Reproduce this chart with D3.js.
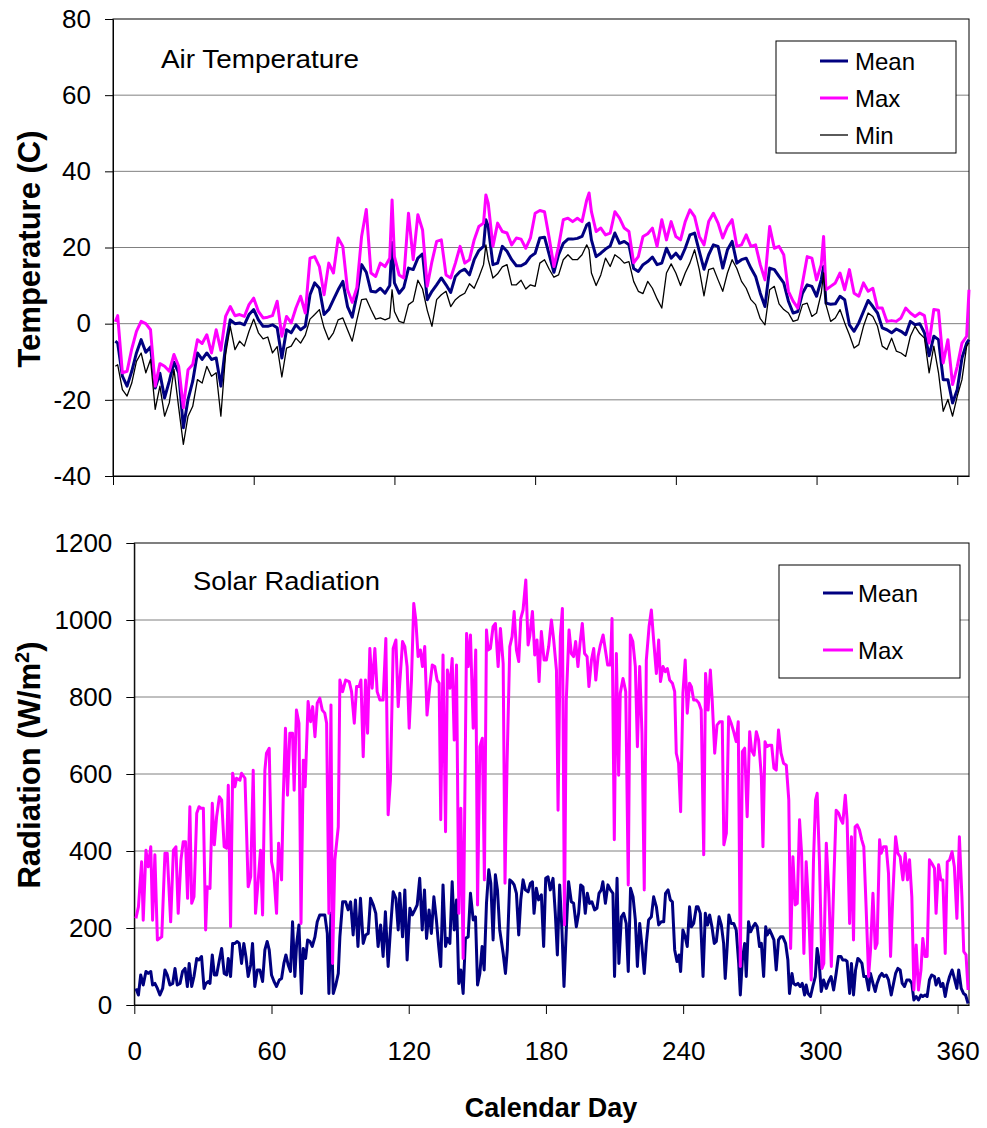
<!DOCTYPE html>
<html>
<head>
<meta charset="utf-8">
<script src="https://cdn.jsdelivr.net/npm/d3@7"></script>
<style>
body { margin:0; background:#fff; }
svg { font-family:"Liberation Sans", Arial, sans-serif; }
</style>
</head>
<body>
<svg id="chart" width="987" height="1128"></svg>
<script>
// ---- data: [calendar day, value] ----
var tempMean = [[1,-4.6],[2,-5.1],[4,-13.8],[6,-16.4],[8,-12.5],[10,-7.7],[12,-4.2],[14,-7.5],[16,-6.1],[18,-16.9],
[20,-13.0],[22,-19.5],[24,-15.1],[26,-10.1],[28,-12.9],[30,-27.3],[32,-19.9],[34,-15.1],[36,-7.7],[38,-9.4],
[40,-7.7],[42,-9.4],[44,-9.0],[46,-16.4],[48,-5.9],[50,1.0],[52,0.0],[54,0.2],[56,-0.3],[58,2.4],
[60,3.7],[62,1.0],[64,-0.7],[66,-0.7],[68,-0.3],[70,-1.1],[72,-9.0],[74,-1.6],[76,-2.4],[78,-0.3],
[80,-1.6],[82,-0.7],[84,7.6],[86,10.7],[88,9.3],[90,2.4],[92,3.7],[94,6.3],[96,8.9],[98,11.1],
[100,4.5],[102,1.7],[104,7.6],[106,15.5],[108,13.5],[110,8.5],[112,8.3],[114,9.3],[116,8.0],[118,10.0],
[119,21.3],[120,10.7],[122,8.0],[124,9.5],[126,14.6],[128,14.2],[130,17.2],[132,18.3],[134,6.3],[136,8.5],
[138,10.2],[140,12.0],[142,10.2],[144,8.2],[146,12.4],[148,13.7],[150,14.3],[152,12.8],[154,16.8],[156,19.2],
[158,20.3],[159,27.3],[160,25.5],[162,15.5],[164,15.9],[166,20.3],[168,19.0],[170,16.8],[172,15.2],[174,15.2],
[176,15.9],[178,17.6],[180,18.5],[182,22.5],[184,22.7],[186,18.1],[188,13.5],[190,18.1],[192,21.1],[194,22.2],
[196,22.2],[198,22.4],[200,22.9],[202,25.9],[203,26.4],[204,22.0],[206,17.6],[208,18.5],[210,19.6],[212,20.4],
[214,23.8],[216,21.1],[218,21.6],[220,20.7],[222,14.5],[224,13.7],[226,15.5],[228,16.3],[230,17.5],[232,15.5],
[234,15.9],[236,19.8],[238,17.2],[240,18.5],[242,17.0],[244,19.8],[246,23.3],[248,23.8],[250,19.0],[252,14.3],
[254,18.1],[256,20.7],[258,20.3],[260,14.6],[262,19.4],[264,21.6],[266,15.9],[268,16.8],[270,17.2],[272,14.6],
[274,12.4],[276,8.0],[278,4.5],[280,14.6],[282,14.2],[284,12.4],[286,10.7],[288,5.9],[290,2.8],[292,3.2],
[294,8.0],[296,10.2],[298,9.8],[300,7.2],[302,11.5],[303,15.0],[304,5.4],[306,5.1],[308,5.2],[310,7.2],
[312,6.3],[314,-0.3],[316,-2.0],[318,0.2],[320,3.2],[322,6.1],[324,4.5],[326,2.8],[328,-1.1],[330,-1.6],
[332,-2.4],[334,-1.4],[336,-2.0],[338,-2.9],[340,0.6],[342,-0.3],[344,0.0],[346,-2.4],[348,-8.4],[350,-3.3],
[352,-4.2],[354,-14.7],[356,-14.7],[358,-20.8],[360,-17.3],[362,-9.0],[364,-5.1],[365,-4.2]];

var tempMax = [[1,0.5],[2,2.1],[4,-12.9],[6,-12.5],[8,-6.6],[10,-2.0],[12,0.6],[14,0.0],[16,-1.6],[18,-16.4],
[20,-10.5],[22,-11.2],[24,-12.5],[26,-8.1],[28,-11.2],[30,-22.1],[32,-12.1],[34,-10.7],[36,-4.2],[38,-5.2],
[40,-2.9],[42,-7.7],[44,-1.6],[46,-7.0],[48,1.9],[50,4.5],[52,2.1],[54,2.4],[56,1.9],[58,5.0],
[60,6.7],[62,3.2],[64,1.5],[66,1.7],[68,2.1],[70,5.9],[72,-3.3],[74,1.9],[76,0.2],[78,4.1],
[80,7.2],[82,2.8],[84,17.2],[86,17.6],[88,15.0],[90,7.6],[92,15.9],[94,13.3],[96,22.5],[98,20.3],
[100,8.9],[102,5.6],[104,9.5],[106,22.9],[108,30.0],[110,13.3],[112,12.4],[114,15.9],[116,15.0],[118,17.2],
[119,32.5],[120,17.6],[122,12.8],[124,12.0],[126,29.0],[128,16.8],[130,28.6],[132,24.6],[134,9.8],[136,16.3],
[138,21.6],[140,22.0],[142,12.8],[144,12.0],[146,15.9],[148,20.3],[150,15.9],[152,16.8],[154,22.0],[156,25.5],
[158,26.4],[159,33.8],[160,31.6],[162,20.3],[164,26.4],[166,24.2],[168,23.8],[170,20.7],[172,22.5],[174,22.2],
[176,19.8],[178,22.5],[180,29.0],[182,29.7],[184,29.4],[186,22.5],[188,15.0],[190,20.3],[192,27.3],[194,27.7],
[196,26.8],[198,27.7],[200,26.8],[202,32.5],[203,34.3],[204,29.4],[206,24.2],[208,25.1],[210,23.3],[212,23.8],
[214,29.4],[216,27.7],[218,25.1],[220,24.2],[222,16.0],[224,17.6],[226,22.9],[228,23.6],[230,25.1],[232,20.3],
[234,27.3],[236,22.0],[238,26.8],[240,22.9],[242,22.0],[244,26.8],[246,29.9],[248,28.1],[250,22.9],[252,20.7],
[254,26.8],[256,29.0],[258,26.4],[260,22.5],[262,25.5],[264,27.3],[266,20.3],[268,20.7],[270,23.3],[272,20.3],
[274,20.7],[276,15.5],[278,11.5],[280,25.5],[282,19.8],[284,20.3],[286,18.1],[288,8.5],[290,5.9],[292,4.1],
[294,10.7],[296,17.6],[298,17.2],[300,11.5],[302,15.5],[303,22.9],[304,8.9],[306,9.8],[308,10.7],[310,13.3],
[312,8.9],[314,14.2],[316,8.0],[318,7.2],[320,10.7],[322,8.5],[324,9.3],[326,4.1],[328,4.1],[330,0.6],
[332,0.8],[334,0.6],[336,1.5],[338,4.1],[340,2.8],[342,1.9],[344,2.8],[346,2.1],[348,-5.1],[350,3.7],
[352,3.5],[354,-10.3],[356,-4.2],[358,-16.0],[360,-11.2],[362,-5.1],[364,-3.3],[365,8.9]];

var tempMin = [[1,-11.2],[2,-10.8],[4,-17.3],[6,-19.0],[8,-15.6],[10,-9.9],[12,-7.7],[14,-12.9],[16,-9.4],[18,-22.5],
[20,-16.4],[22,-24.3],[24,-20.8],[26,-12.0],[28,-22.0],[30,-31.7],[32,-24.3],[34,-21.7],[36,-14.7],[38,-15.6],
[40,-11.2],[42,-13.8],[44,-12.9],[46,-24.3],[48,-8.1],[50,-0.7],[52,-6.8],[54,-4.6],[56,-5.9],[58,-2.0],
[60,1.2],[62,-2.4],[64,-4.0],[66,-3.5],[68,-7.7],[70,-6.0],[72,-14.0],[74,-6.4],[76,-5.9],[78,-3.8],
[80,-5.1],[82,-3.0],[84,1.2],[86,2.4],[88,3.7],[90,-1.1],[92,-4.2],[94,-2.4],[96,1.0],[98,1.5],
[100,-1.6],[102,-4.6],[104,1.0],[106,6.3],[108,6.5],[110,3.7],[112,1.2],[114,1.5],[116,1.0],[118,1.5],
[119,8.9],[120,3.2],[122,0.6],[124,0.2],[126,5.0],[128,5.9],[130,11.4],[132,9.1],[134,3.5],[136,-0.7],
[138,6.3],[140,7.6],[142,8.5],[144,4.5],[146,6.3],[148,7.3],[150,8.0],[152,10.5],[154,9.3],[156,12.2],
[158,15.5],[159,20.7],[160,16.8],[162,12.0],[164,13.1],[166,14.9],[168,15.5],[170,10.2],[172,10.2],[174,11.4],
[176,9.1],[178,10.2],[180,9.8],[182,15.9],[184,16.8],[186,14.3],[188,12.2],[190,12.8],[192,16.8],[194,18.1],
[196,16.8],[198,16.8],[200,18.1],[202,20.7],[203,19.4],[204,13.3],[206,10.0],[208,12.8],[210,17.2],[212,15.0],
[214,18.1],[216,17.2],[218,15.9],[220,16.3],[222,11.1],[224,8.5],[226,7.9],[228,11.1],[230,9.3],[232,6.5],
[234,4.1],[236,13.3],[238,15.7],[240,13.3],[242,10.0],[244,13.3],[246,15.9],[248,19.4],[250,14.2],[252,7.3],
[254,14.2],[256,14.6],[258,11.5],[260,8.5],[262,13.3],[264,16.8],[266,14.5],[268,11.1],[270,9.3],[272,6.3],
[274,5.0],[276,1.3],[278,-0.3],[280,8.9],[282,9.8],[284,5.2],[286,3.7],[288,2.8],[290,0.6],[292,1.0],
[294,5.0],[296,5.4],[298,1.9],[300,2.8],[302,8.0],[303,13.3],[304,5.0],[306,0.6],[308,1.5],[310,3.7],
[312,0.2],[314,-2.9],[316,-6.4],[318,-5.5],[320,-0.7],[322,2.8],[324,1.9],[326,-0.7],[328,-5.9],[330,-6.8],
[332,-3.8],[334,-7.2],[336,-7.7],[338,-8.6],[340,-3.3],[342,-0.7],[344,-2.6],[346,-3.8],[348,-12.9],[350,-5.9],
[352,-12.9],[354,-23.0],[356,-19.9],[358,-24.3],[360,-19.0],[362,-14.7],[364,-5.9],[365,-5.0]];

var radMean = [[0.7,43],[1.8,26],[2.8,78],[3.9,52],[5.1,87],[6.1,82],[7.2,87],[8.0,52],[9.0,56],[10.1,43],
[11.2,26],[12.4,43],[13.4,91],[14.4,78],[15.6,52],[16.8,56],[17.8,95],[18.8,52],[20.0,56],[21.1,87],
[22.2,95],[23.2,48],[24.0,108],[25.1,48],[26.1,74],[27.3,121],[28.3,117],[29.4,126],[30.5,43],[31.3,56],
[32.4,61],[33.1,56],[34.1,130],[35.0,78],[36.0,78],[37.2,117],[38.2,147],[39.3,82],[40.4,78],[41.1,121],
[42.1,74],[43.0,160],[44.0,160],[45.0,165],[45.9,160],[46.9,108],[47.9,160],[48.8,126],[49.8,74],[50.9,104],
[51.7,160],[52.7,48],[53.8,91],[54.9,91],[56.1,61],[57.1,143],[58.1,165],[59.0,143],[60.0,78],[61.1,61],
[62.2,48],[63.4,65],[64.4,69],[65.4,108],[66.3,130],[67.3,104],[68.3,87],[69.2,216],[70.2,74],[71.0,160],
[72.0,208],[73.1,30],[73.9,147],[74.9,121],[75.8,169],[76.8,165],[77.8,152],[79.0,177],[80.0,216],[81.1,234],
[82.3,234],[83.3,234],[84.4,186],[85.1,30],[86.0,238],[87.0,30],[88.1,52],[89.2,82],[89.9,177],[91.1,268],
[92.4,268],[93.5,247],[94.6,268],[95.7,182],[96.7,273],[97.8,152],[98.9,277],[100.1,160],[101.2,182],[102.3,186],
[103.3,277],[104.5,260],[105.6,238],[106.6,152],[107.7,208],[108.8,126],[109.8,242],[111.0,100],[112.0,195],[113.2,294],
[114.4,277],[115.4,195],[116.1,290],[117.3,177],[118.3,299],[119.3,117],[120.5,251],[121.6,234],[122.7,247],[123.7,260],
[124.8,329],[125.9,195],[126.9,299],[127.8,173],[128.9,247],[129.9,186],[131.0,281],[132.1,221],[133.1,152],[134.0,100],
[135.0,312],[136.1,152],[136.9,173],[138.0,160],[139.0,320],[139.9,195],[140.9,273],[141.9,56],[142.8,91],[143.8,30],
[144.8,173],[146.0,177],[147.0,290],[148.2,221],[149.2,229],[150.1,52],[151.1,82],[152.1,152],[153.0,91],[154.0,264],
[155.0,351],[155.9,316],[156.9,169],[157.9,338],[158.8,299],[159.8,195],[161.3,134],[162.3,82],[163.1,143],[164.2,325],
[165.2,320],[166.1,312],[167.1,290],[168.1,182],[169.0,273],[170.0,325],[171.0,299],[172.2,294],[173.2,316],[174.1,320],
[174.8,238],[175.8,303],[176.8,273],[178.0,286],[179.0,152],[179.9,329],[180.9,333],[181.9,299],[183.1,329],[184.1,238],
[185.0,130],[186.0,312],[187.0,195],[187.9,48],[188.9,195],[189.9,320],[191.1,268],[192.1,264],[193.3,203],[194.3,238],
[195.2,312],[196.2,307],[197.2,238],[198.1,290],[199.1,264],[200.1,268],[201.3,247],[202.3,251],[203.2,290],[204.2,299],
[204.9,320],[206.0,264],[207.1,312],[208.2,299],[209.3,290],[210.0,74],[211.1,329],[211.9,108],[213.0,229],[214.0,238],
[215.1,212],[216.0,87],[217.0,303],[218.1,281],[219.1,221],[220.0,100],[221.0,212],[222.0,152],[223.0,82],[223.9,160],
[224.9,221],[226.1,229],[227.1,281],[228.3,255],[229.3,208],[230.4,216],[231.5,216],[232.3,290],[233.4,299],[234.4,273],
[235.3,268],[236.3,143],[237.3,113],[238.2,130],[238.9,87],[239.9,195],[240.9,177],[241.8,152],[242.8,255],[243.6,203],
[244.6,212],[245.8,255],[246.5,255],[247.5,238],[248.7,74],[249.7,238],[250.7,208],[251.6,234],[252.6,203],[253.6,160],
[254.5,165],[255.7,229],[256.7,208],[257.7,160],[258.4,69],[259.3,156],[260.0,234],[261.0,212],[262.1,212],[263.2,195],
[264.3,108],[265.0,26],[265.9,117],[266.9,160],[267.6,74],[268.6,216],[269.5,190],[270.5,203],[271.5,212],[272.4,203],
[273.4,152],[274.2,160],[275.2,74],[276.1,203],[276.8,182],[277.8,195],[278.8,182],[279.7,169],[280.7,91],[281.7,169],
[282.6,177],[283.6,177],[284.8,160],[285.8,117],[286.5,30],[287.6,82],[288.3,56],[289.2,52],[290.2,56],[291.2,48],
[292.1,56],[293.1,26],[293.8,52],[294.6,30],[295.7,22],[296.7,48],[297.8,74],[298.6,147],[299.4,117],[300.4,35],
[301.4,65],[302.6,43],[303.6,61],[304.7,74],[305.8,39],[306.9,82],[307.9,126],[309.0,126],[309.8,117],[310.9,117],
[311.7,113],[312.8,30],[313.6,108],[314.5,26],[315.4,91],[316.4,121],[317.1,117],[318.2,108],[319.0,74],[320.0,74],
[321.1,39],[321.9,82],[323.0,56],[324.0,35],[324.8,56],[325.9,74],[326.9,82],[327.8,74],[328.8,78],[329.8,65],
[331.0,26],[332.0,56],[332.9,82],[333.9,95],[334.9,91],[335.8,56],[336.8,48],[337.8,65],[339.0,65],[340.0,56],
[340.9,13],[341.9,22],[342.9,13],[344.0,26],[344.8,22],[345.8,26],[346.7,22],[347.7,65],[348.7,78],[349.9,74],
[350.6,52],[351.7,69],[352.7,48],[353.6,56],[354.6,22],[355.5,52],[356.5,74],[357.6,91],[358.6,69],[359.7,43],
[360.5,91],[361.6,43],[362.6,30],[363.5,26],[364.6,4]];

var radMax = [[0.7,225],[1.8,255],[3.2,372],[3.9,220],[5.1,402],[6.1,359],[7.2,411],[8.0,220],[9.0,390],[10.1,169],
[12.0,177],[13.4,394],[14.4,394],[15.9,216],[17.1,402],[18.2,411],[19.2,238],[20.4,377],[21.4,424],[22.4,424],
[23.3,277],[24.3,515],[25.1,264],[26.1,281],[27.3,498],[28.3,515],[29.1,511],[30.2,511],[31.2,195],[31.9,307],
[33.1,303],[34.1,524],[35.0,416],[36.0,489],[37.2,541],[38.2,532],[39.3,411],[40.4,407],[41.1,571],[42.1,203],
[43.0,602],[44.0,567],[44.7,589],[46.2,584],[46.9,602],[48.4,589],[49.8,307],[50.9,333],[52.0,610],[53.0,238],
[54.2,325],[55.2,402],[56.1,234],[57.1,610],[57.8,654],[59.0,667],[60.0,372],[61.0,342],[62.2,238],[63.1,420],
[64.4,325],[65.1,532],[66.1,719],[67.0,545],[68.0,706],[69.2,706],[69.9,558],[70.9,766],[72.0,732],[72.9,212],
[73.9,636],[74.7,567],[76.0,788],[77.1,736],[78.0,775],[79.0,697],[80.0,784],[81.1,797],[82.2,766],[83.3,758],
[84.1,732],[85.1,238],[86.0,779],[86.7,108],[87.7,377],[89.2,463],[89.9,844],[91.1,814],[92.4,844],[94.0,840],
[95.0,814],[96.2,732],[97.2,827],[98.3,827],[99.1,844],[100.1,645],[101.1,844],[102.0,706],[103.0,926],[104.0,823],
[105.2,926],[106.2,814],[107.4,792],[108.8,792],[110.0,952],[111.0,494],[112.0,584],[113.2,926],[114.4,948],[115.4,775],
[117.3,944],[118.3,931],[119.3,879],[120.2,719],[121.2,844],[122.2,1043],[123.1,1000],[124.1,905],[125.1,922],[126.0,879],
[127.0,931],[128.0,753],[129.2,827],[130.3,883],[131.4,879],[132.4,844],[133.3,836],[134.0,481],[135.0,909],[136.1,450],
[136.9,870],[138.0,823],[139.0,900],[139.9,688],[140.9,883],[141.9,238],[142.8,511],[143.8,121],[145.3,965],[146.0,879],
[147.0,961],[148.2,719],[149.3,922],[150.1,260],[151.1,671],[152.2,693],[153.1,325],[154.0,974],[154.7,922],[155.7,926],
[156.9,983],[157.9,991],[159.1,879],[160.1,978],[161.3,887],[162.1,316],[163.0,628],[164.2,931],[165.2,957],[166.1,1022],
[167.1,922],[168.1,892],[169.0,1004],[170.0,1026],[171.2,1104],[172.2,935],[172.9,957],[174.1,1022],[175.1,909],[176.1,948],
[177.0,840],[178.0,970],[179.2,896],[180.2,896],[181.2,931],[182.4,1000],[183.4,948],[184.6,870],[185.3,506],[186.3,957],
[187.2,1030],[188.1,208],[188.9,792],[190.1,974],[191.1,913],[192.1,905],[193.0,944],[194.0,879],[194.9,939],[195.9,991],
[196.9,913],[198.0,905],[198.8,827],[199.9,896],[200.9,926],[201.8,844],[202.8,905],[203.8,935],[205.0,961],[206.0,922],
[207.0,883],[208.2,883],[208.9,1004],[209.9,429],[210.8,913],[211.8,597],[212.5,810],[213.7,848],[214.9,814],[216.0,312],
[216.9,961],[218.0,944],[219.1,879],[220.0,671],[221.0,879],[222.0,706],[223.0,299],[223.9,896],[225.1,983],[226.1,1026],
[227.1,948],[228.3,861],[229.3,948],[230.1,840],[231.2,879],[232.2,866],[233.1,874],[234.1,844],[235.3,836],[236.3,814],
[237.0,654],[238.0,628],[238.9,502],[239.9,810],[240.9,896],[241.8,758],[242.8,836],[243.6,827],[244.6,792],[245.8,792],
[246.9,784],[247.9,766],[249.0,390],[249.8,861],[250.9,766],[251.9,870],[252.7,792],[253.8,654],[254.8,727],[256.0,736],
[257.1,736],[257.8,416],[258.9,446],[259.9,749],[261.0,732],[262.1,710],[263.2,684],[264.1,736],[265.0,100],[265.9,658],
[266.9,667],[268.0,489],[269.1,710],[269.9,662],[271.0,649],[272.0,710],[273.0,688],[274.2,593],[274.9,411],[275.8,684],
[276.6,671],[277.8,675],[278.7,675],[279.7,615],[280.7,610],[281.7,714],[282.8,654],[283.9,628],[285.1,623],[286.2,532],
[287.0,147],[288.0,385],[289.0,260],[289.9,264],[290.9,481],[291.8,394],[292.8,134],[293.8,372],[294.8,260],[296.0,65],
[297.0,377],[297.9,532],[298.6,550],[299.6,377],[300.7,95],[301.5,108],[302.6,420],[303.7,290],[304.8,100],[305.9,325],
[306.9,506],[308.0,498],[309.0,481],[309.8,472],[310.9,545],[311.7,481],[312.8,212],[313.6,437],[314.5,169],[315.2,463],
[316.1,468],[317.1,455],[318.1,429],[319.0,411],[320.0,255],[321.1,74],[321.9,139],[323.0,290],[324.0,147],[324.8,160],
[325.9,429],[326.6,394],[327.6,411],[328.8,411],[329.8,342],[330.7,126],[331.7,286],[332.9,437],[333.9,394],[334.9,385],
[336.1,325],[337.1,394],[338.1,325],[339.0,377],[340.0,281],[340.9,39],[341.9,156],[342.9,39],[344.0,91],[344.8,173],
[345.8,126],[346.7,126],[347.7,377],[348.7,368],[349.9,355],[350.6,238],[351.7,364],[352.7,325],[353.6,325],[354.6,134],
[355.5,372],[356.5,377],[357.6,398],[358.6,359],[359.7,225],[360.8,437],[361.9,281],[362.7,139],[363.7,130],[364.6,39]];

// axis ticks
var dayTicks = [0, 60, 120, 180, 240, 300, 360];
var tempTicks = [-40, -20, 0, 20, 40, 60, 80];
var radTicks = [0, 200, 400, 600, 800, 1000, 1200];

var svg = d3.select("#chart");

// draws the frame, gridlines and axes of one panel
var drawFrame = function(box, xScale, yScale, yTicks, showDays)
{
    var g = svg.append("g");

    // horizontal gridlines
    g.selectAll(".grid")
        .data(yTicks.slice(1, yTicks.length - 1))
        .enter()
        .append("line")
        .attr("x1", box.left)
        .attr("x2", box.right)
        .attr("y1", function(t){ return yScale(t); })
        .attr("y2", function(t){ return yScale(t); })
        .attr("stroke", "#808080")
        .attr("stroke-width", 1);

    // plot area border
    g.append("rect")
        .attr("x", box.left)
        .attr("y", box.top)
        .attr("width", box.right - box.left)
        .attr("height", box.bottom - box.top)
        .attr("fill", "none")
        .attr("stroke", "#000")
        .attr("stroke-width", 1);

    // plain numbers with a hyphen minus, no thousands comma
    var plain = function(d){ return String(d); };

    var yAxis = d3.axisLeft(yScale)
        .tickValues(yTicks)
        .tickFormat(plain)
        .tickSize(8)
        .tickSizeOuter(0)
        .tickPadding(14);
    var ya = g.append("g")
        .attr("transform", "translate(" + box.left + ",0)")
        .call(yAxis);

    var xAxis = d3.axisBottom(xScale)
        .tickValues(dayTicks)
        .tickFormat(showDays ? plain : "")
        .tickSize(9)
        .tickSizeOuter(0)
        .tickPadding(28);
    var xa = g.append("g")
        .attr("transform", "translate(0," + box.bottom + ")")
        .call(xAxis);

    [ya, xa].forEach(function(a)
    {
        a.select(".domain").attr("stroke", "#000");
        a.selectAll(".tick line").attr("stroke", "#000");
        a.selectAll("text")
            .attr("fill", "#000")
            .style("font-family", "'Liberation Sans', Arial, sans-serif")
            .style("font-size", "26px");
    });
};

// draws one series as a polyline
var drawSeries = function(data, xScale, yScale, color, width)
{
    var line = d3.line()
        .x(function(d){ return xScale(d[0]); })
        .y(function(d){ return yScale(d[1]); });
    svg.append("path")
        .datum(data)
        .attr("d", line)
        .attr("fill", "none")
        .attr("stroke", color)
        .attr("stroke-width", width)
        .attr("stroke-linejoin", "round");
};

// draws a boxed legend
var drawLegend = function(box, entries)
{
    var g = svg.append("g");
    g.append("rect")
        .attr("x", box.x).attr("y", box.y)
        .attr("width", box.w).attr("height", box.h)
        .attr("fill", "#fff").attr("stroke", "#000");
    entries.forEach(function(e)
    {
        g.append("line")
            .attr("x1", box.lineX).attr("x2", box.lineX + box.lineW)
            .attr("y1", e.y).attr("y2", e.y)
            .attr("stroke", e.color).attr("stroke-width", e.width);
        g.append("text")
            .attr("x", box.textX).attr("y", e.y)
            .attr("dy", "0.36em")
            .style("font-size", "24px")
            .text(e.name);
    });
};

// ---- top panel: air temperature ----
var topBox = {left:113, right:969, top:19, bottom:476};
var xTop = d3.scaleLinear().domain([0, 365]).range([topBox.left, topBox.right]);
var yTop = d3.scaleLinear().domain([-40, 80]).range([topBox.bottom, topBox.top]);

drawFrame(topBox, xTop, yTop, tempTicks, false);
drawSeries(tempMean, xTop, yTop, "#000080", 3);
drawSeries(tempMax, xTop, yTop, "#ff00ff", 3);
drawSeries(tempMin, xTop, yTop, "#000", 1.3);

svg.append("text")
    .attr("x", 161).attr("y", 68)
    .attr("textLength", 198)
    .attr("lengthAdjust", "spacingAndGlyphs")
    .style("font-size", "26px")
    .text("Air Temperature");

drawLegend({x:776, y:41, w:180, h:112, lineX:820, lineW:28, textX:855},
    [{name:"Mean", color:"#000080", width:3, y:61},
     {name:"Max", color:"#ff00ff", width:3, y:98},
     {name:"Min", color:"#000", width:1.3, y:135}]);

svg.append("text")
    .attr("transform", "translate(40,249) rotate(-90)")
    .attr("text-anchor", "middle")
    .style("font-size", "31px")
    .style("font-weight", "bold")
    .text("Temperature (C)");

// ---- bottom panel: solar radiation ----
var botBox = {left:134.3, right:969, top:543, bottom:1005};
var xBot = d3.scaleLinear().domain([0, 365]).range([botBox.left, botBox.right]);
var yBot = d3.scaleLinear().domain([0, 1200]).range([botBox.bottom, botBox.top]);

drawFrame(botBox, xBot, yBot, radTicks, true);
drawSeries(radMean, xBot, yBot, "#000080", 3);
drawSeries(radMax, xBot, yBot, "#ff00ff", 3);

svg.append("text")
    .attr("x", 193).attr("y", 590)
    .attr("textLength", 187)
    .attr("lengthAdjust", "spacingAndGlyphs")
    .style("font-size", "26px")
    .text("Solar Radiation");

drawLegend({x:779, y:565, w:181, h:113, lineX:823, lineW:30, textX:858},
    [{name:"Mean", color:"#000080", width:3, y:593},
     {name:"Max", color:"#ff00ff", width:3, y:650}]);

var radTitle = svg.append("text")
    .attr("transform", "translate(40,765) rotate(-90)")
    .attr("text-anchor", "middle")
    .style("font-size", "31px")
    .style("font-weight", "bold");
radTitle.append("tspan").text("Radiation (W/m");
radTitle.append("tspan").attr("dy", "-11").style("font-size", "20px").text("2");
radTitle.append("tspan").attr("dy", "11").text(")");

svg.append("text")
    .attr("x", 551).attr("y", 1117)
    .attr("text-anchor", "middle")
    .style("font-size", "27px")
    .style("font-weight", "bold")
    .text("Calendar Day");
</script>
</body>
</html>
